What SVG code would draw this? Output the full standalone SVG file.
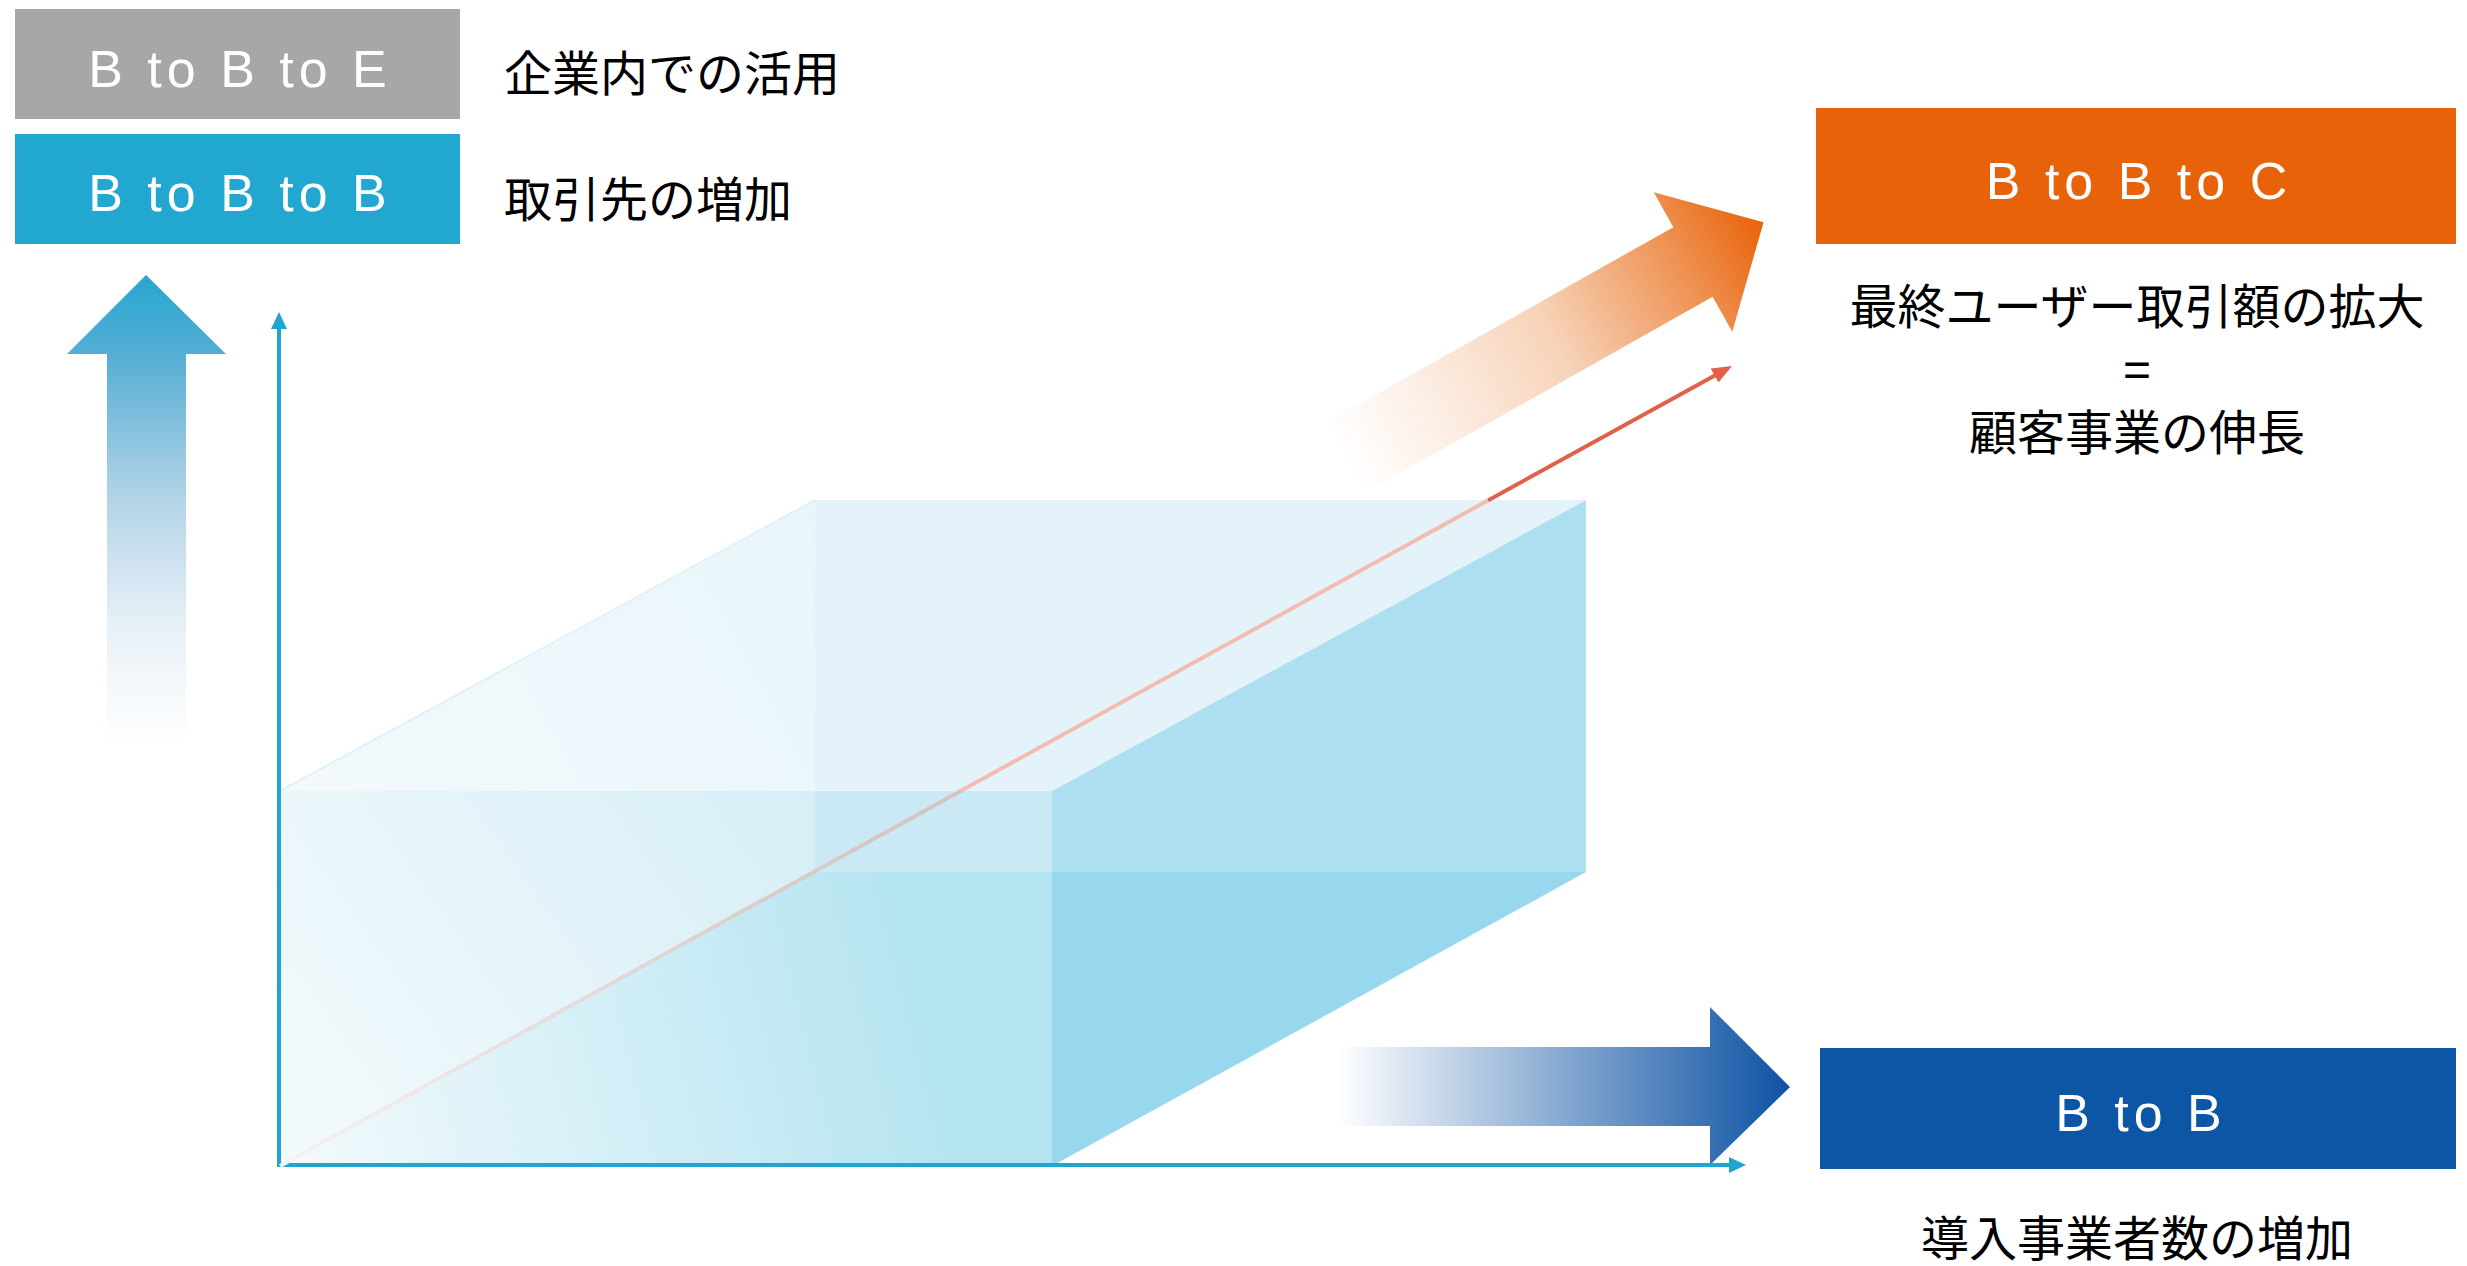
<svg xmlns="http://www.w3.org/2000/svg" width="2467" height="1266" viewBox="0 0 2467 1266">
<style>
.boxlbl{font-family:"Liberation Sans",Arial,sans-serif;font-size:52px;fill:#ffffff;letter-spacing:5px;text-anchor:middle}
.jp{font-family:"Liberation Sans","Noto Sans CJK JP",sans-serif;font-size:48px;fill:#000000}
.mid{text-anchor:middle}
.axis{stroke:#1fa5d0;stroke-width:4;fill:none}
.axhead{fill:#1fa5d0}
</style>
<defs>
<linearGradient id="gUp" x1="0" y1="275" x2="0" y2="745" gradientUnits="userSpaceOnUse">
<stop offset="0" stop-color="#26a6d1"/>
<stop offset="0.17" stop-color="#55aed4"/>
<stop offset="0.48" stop-color="#b4d4e7"/>
<stop offset="0.75" stop-color="#e8f1f7"/>
<stop offset="1" stop-color="#ffffff"/>
</linearGradient>
<linearGradient id="gOrange" x1="-400" y1="0" x2="81" y2="0" gradientUnits="userSpaceOnUse">
<stop offset="0" stop-color="#ffffff"/>
<stop offset="0.2" stop-color="#fcefe6"/>
<stop offset="0.5" stop-color="#f7d3b9"/>
<stop offset="0.8" stop-color="#ef9354"/>
<stop offset="1" stop-color="#e8620a"/>
</linearGradient>
<linearGradient id="gBlue" x1="1337" y1="0" x2="1790" y2="0" gradientUnits="userSpaceOnUse">
<stop offset="0" stop-color="#ffffff"/>
<stop offset="1" stop-color="#0d52a3"/>
</linearGradient>
<linearGradient id="gTopTri" x1="280" y1="791" x2="815" y2="500" gradientUnits="userSpaceOnUse">
<stop offset="0" stop-color="#f3f9fc"/>
<stop offset="1" stop-color="#e9f5fa"/>
</linearGradient>
<linearGradient id="gLeftFace" x1="280" y1="1166" x2="815" y2="791" gradientUnits="userSpaceOnUse">
<stop offset="0" stop-color="#f4fafc"/>
<stop offset="1" stop-color="#d6eef6"/>
</linearGradient>
<linearGradient id="gFrontLow" x1="280" y1="1166" x2="920" y2="1010" gradientUnits="userSpaceOnUse">
<stop offset="0" stop-color="#f4fafc"/>
<stop offset="1" stop-color="#b5e4f1"/>
</linearGradient>
<linearGradient id="gRed" x1="280" y1="1166" x2="1732" y2="366" gradientUnits="userSpaceOnUse">
<stop offset="0" stop-color="#f5f2f2"/>
<stop offset="0.35" stop-color="#d9cbca"/>
<stop offset="0.469" stop-color="#d4c2c0"/>
<stop offset="0.469" stop-color="#f2bcb1"/>
<stop offset="0.832" stop-color="#f2bcb1"/>
<stop offset="0.832" stop-color="#e0604a"/>
<stop offset="1" stop-color="#e0604a"/>
</linearGradient>
<marker id="mRed" viewBox="0 0 20 16" refX="5" refY="8" markerWidth="20" markerHeight="16" markerUnits="userSpaceOnUse" orient="auto">
<path d="M0,0 L20,8 L0,16 Z" fill="#e0604a"/>
</marker>
</defs>

<rect width="2467" height="1266" fill="#ffffff"/>

<g id="prism">
<polygon points="280,791 815,500 815,791" fill="url(#gTopTri)"/>
<polygon points="815,500 1586,500 1052,791 815,791" fill="#e4f3f9"/>
<polygon points="280,791 815,791 815,872 280,1166" fill="url(#gLeftFace)"/>
<polygon points="280,1166 815,872 1052,872 1052,1166" fill="url(#gFrontLow)"/>
<rect x="815" y="791" width="237" height="81" fill="#cbe9f4"/>
<polygon points="1052,791 1586,500 1586,872 1052,872" fill="#addff0"/>
<polygon points="1052,872 1586,872 1052,1166" fill="#97d8ee"/>
<line x1="280" y1="791" x2="815" y2="500" stroke="#d9eff7" stroke-width="1.5"/>
</g>

<g id="arrow-up">
<polygon points="146,275 226,354 186,354 186,745 107,745 107,354 67,354" fill="url(#gUp)"/>
</g>

<g id="arrow-orange">
<path transform="translate(1693,262) rotate(-29.4)" d="M-400,-40 L0,-40 L0,-80 L81,0 L0,80 L0,40 L-400,40 Z" fill="url(#gOrange)"/>
</g>

<g id="arrow-blue">
<polygon points="1337,1047 1710,1047 1710,1007 1790,1087 1710,1165 1710,1126 1337,1126" fill="url(#gBlue)"/>
</g>

<g id="connectors">
<line class="axis" x1="279" y1="1167" x2="279" y2="326"/>
<polygon class="axhead" points="279,312 271,329 287,329"/>
<line class="axis" x1="277" y1="1165" x2="1732" y2="1165"/>
<polygon class="axhead" points="1746,1165 1729,1157 1729,1173"/>
<line x1="280" y1="1166" x2="1718.9" y2="373.2" stroke="url(#gRed)" stroke-width="4" marker-end="url(#mRed)"/>
</g>

<g id="node-b2b2e">
<rect x="15" y="9" width="445" height="110" fill="#a7a7a7"/>
<text class="boxlbl" x="240" y="87">B to B to E</text>
</g>
<g id="label-b2b2e">
<text class="jp" x="504" y="91">企業内での活用</text>
</g>

<g id="node-b2b2b">
<rect x="15" y="134" width="445" height="110" fill="#22a8d0"/>
<text class="boxlbl" x="240" y="211">B to B to B</text>
</g>
<g id="label-b2b2b">
<text class="jp" x="504" y="217">取引先の増加</text>
</g>

<g id="node-b2b2c">
<rect x="1816" y="108" width="640" height="136" fill="#e8620a"/>
<text class="boxlbl" x="2139" y="199">B to B to C</text>
</g>
<g id="label-b2b2c">
<text class="jp mid" x="2137" y="324">最終ユーザー取引額の拡大</text>
<text class="jp mid" x="2137" y="386">=</text>
<text class="jp mid" x="2137" y="450">顧客事業の伸長</text>
</g>

<g id="node-b2b">
<rect x="1820" y="1048" width="636" height="121" fill="#0d55a5"/>
<text class="boxlbl" x="2141" y="1131">B to B</text>
</g>
<g id="label-b2b">
<text class="jp mid" x="2137" y="1256">導入事業者数の増加</text>
</g>
</svg>
